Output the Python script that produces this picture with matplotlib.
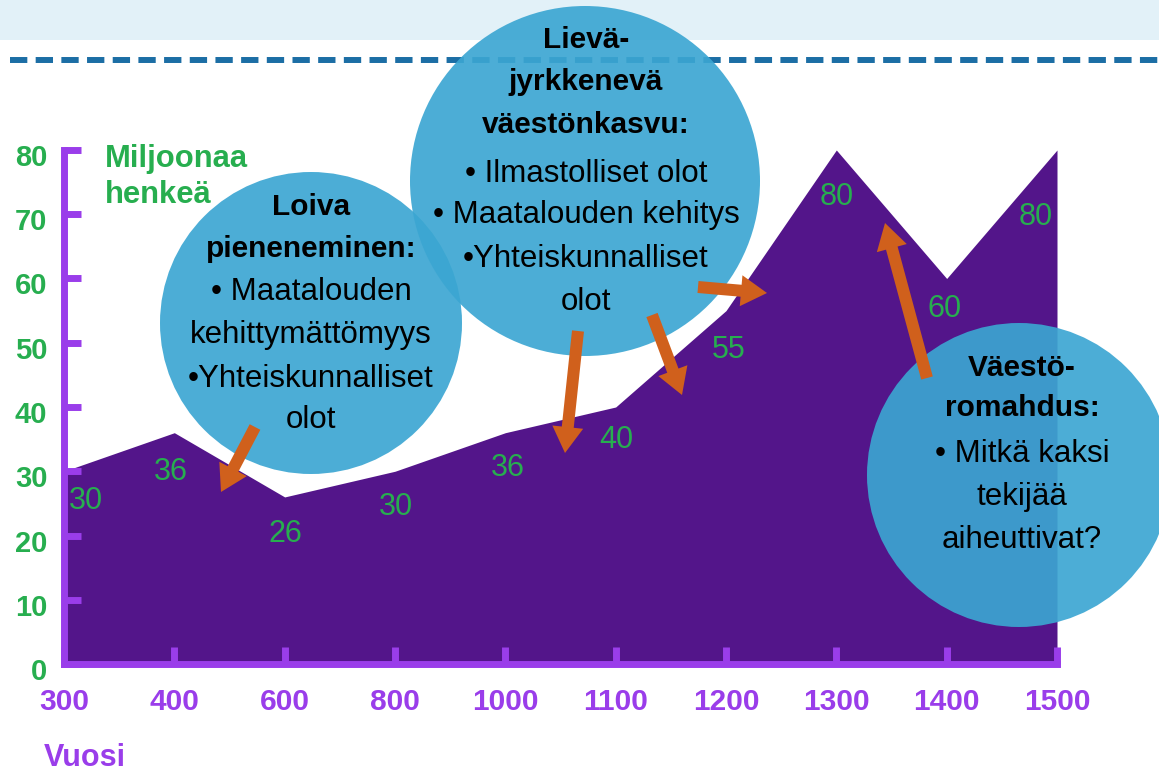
import matplotlib
matplotlib.use("Agg")
import matplotlib.pyplot as plt
from matplotlib.patches import Circle, Rectangle, FancyArrow
from matplotlib.transforms import ScaledTranslation

plt.rcParams['font.family'] = ['Liberation Sans', 'DejaVu Sans']

# ---- data ----
years = ['300', '400', '600', '800', '1000', '1100', '1200', '1300', '1400', '1500']
population = [30, 36, 26, 30, 36, 40, 55, 80, 60, 80]
y_ticks = [0, 10, 20, 30, 40, 50, 60, 70, 80]
y_unit_label = ['Miljoonaa', 'henkeä']
x_axis_label = 'Vuosi'

bubble1 = [('Loiva', True), ('pieneneminen:', True), ('• Maatalouden', False),
           ('kehittymättömyys', False), ('•Yhteiskunnalliset', False), ('olot', False)]
bubble2 = [('Lievä-', True), ('jyrkkenevä', True), ('väestönkasvu:', True),
           ('• Ilmastolliset olot', False), ('• Maatalouden kehitys', False),
           ('•Yhteiskunnalliset', False), ('olot', False)]
bubble3 = [('Väestö-', True), ('romahdus:', True), ('• Mitkä kaksi', False),
           ('tekijää', False), ('aiheuttivat?', False)]

# ---- styles ----
AREA = '#53158A'
AXIS = '#9A3DEA'
GREEN = '#27AE4F'
BUBBLE = '#3BA6D2'
ORANGE = '#D0601C'
BAND = '#E2F1F8'
DASH = '#1C6EA5'

W, H = 1159, 771
fig = plt.figure(figsize=(W / 100, H / 100), dpi=100)
fig.patch.set_facecolor('white')

# main chart axes
ax = fig.add_axes([64 / W, (H - 664) / H, 993 / W, 514 / H])
x = list(range(len(years)))
ax.fill_between(x, population, 0, color=AREA, lw=0, zorder=1)
ax.set_xlim(0, len(years) - 1)
ax.set_ylim(0, 80)
ax.set_facecolor('none')
for s in ['top', 'right']:
    ax.spines[s].set_visible(False)
for s in ['left', 'bottom']:
    ax.spines[s].set_color(AXIS)
    ax.spines[s].set_linewidth(5)
    ax.spines[s].set_capstyle('projecting')
    ax.spines[s].set_zorder(5)
ax.set_xticks(x)
ax.set_xticklabels(years)
ax.set_yticks(y_ticks)
ax.tick_params(axis='both', direction='in', length=12, width=5, color=AXIS)
ax.tick_params(axis='y', pad=12, labelsize=21, labelcolor=GREEN)
ax.tick_params(axis='x', pad=17, labelsize=21.5, labelcolor=AXIS)
for lab in ax.get_yticklabels():
    lab.set_fontweight('bold')
    lab.set_transform(lab.get_transform() + ScaledTranslation(0, -5 / 100, fig.dpi_scale_trans))
for lab in ax.get_xticklabels():
    lab.set_fontweight('bold')

# data labels (offsets in pixels: right, up; relative to baseline)
label_offsets = [(22, -38), (-3, -47), (1, -45), (1, -44), (3, -43),
                 (1, -41), (3, -47), (0, -55), (-2, -39), (-21, -75)]
for i, v in enumerate(population):
    dx, dy = label_offsets[i]
    ax.annotate(str(v), xy=(i, v), xytext=(dx * 0.72, dy * 0.72), textcoords='offset points',
                ha='center', va='baseline', fontsize=22, color=GREEN, zorder=6)

# overlay axes in pixel coordinates for decorations
ov = fig.add_axes([0, 0, 1, 1], zorder=10)
ov.set_xlim(0, W)
ov.set_ylim(H, 0)
ov.axis('off')
ov.set_facecolor('none')

ov.add_patch(Rectangle((0, 0), W, 40, color=BAND, lw=0, zorder=1))
ov.plot([10, W], [60, 60], color=DASH, lw=4.3, ls=(0, (2.9, 1.4)),
        dash_capstyle='butt', zorder=2)

for (cx, cy, r) in [(311, 323, 151), (585, 181, 175), (1019, 475, 152)]:
    ov.add_patch(Circle((cx, cy), r, facecolor=BUBBLE, edgecolor='none', alpha=0.915, zorder=3))

arrows = [((255, 427), (221, 492)), ((578, 331), (565, 453)), ((652, 315), (682, 395)),
          ((698, 287), (767, 293)), ((927, 378), (885, 223))]
for (x0, y0), (x1, y1) in arrows:
    ov.add_patch(FancyArrow(x0, y0, x1 - x0, y1 - y0, width=12, head_width=31, head_length=26,
                            length_includes_head=True, color=ORANGE, lw=0, zorder=4))

def bubble_text(lines, cx, baselines):
    for (txt, bold), by in zip(lines, baselines):
        ov.text(cx, by, txt, ha='center', va='baseline', fontsize=21.5 if bold else 22.5,
                fontweight='bold' if bold else 'normal', color='black', zorder=5)

bubble_text(bubble1, 311, [215, 257, 300, 343, 387, 428])
bubble_text(bubble2, 586, [48, 90, 133, 182, 223, 267, 310])
bubble_text(bubble3, 1022, [376, 416, 462, 505, 548])

# axis unit labels
ov.text(105, 167, y_unit_label[0], ha='left', va='baseline', fontsize=22.3, fontweight='bold', color=GREEN, zorder=5)
ov.text(105, 203, y_unit_label[1], ha='left', va='baseline', fontsize=22.3, fontweight='bold', color=GREEN, zorder=5)
ov.text(44, 766, x_axis_label, ha='left', va='baseline', fontsize=22, fontweight='bold', color=AXIS, zorder=5)

fig.savefig('out.png', dpi=100)
